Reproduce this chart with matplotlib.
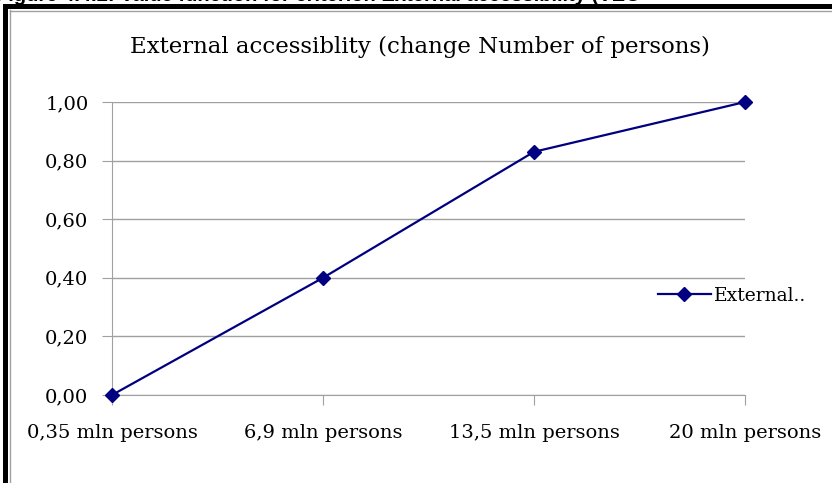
import matplotlib
matplotlib.use("Agg")
import matplotlib.pyplot as plt
from matplotlib.patches import Rectangle
from matplotlib.lines import Line2D

categories = ["0,35 mln persons", "6,9 mln persons", "13,5 mln persons", "20 mln persons"]
values = [0.0, 0.40, 0.83, 1.0]
yticks = [0.0, 0.2, 0.4, 0.6, 0.8, 1.0]
ytick_labels = ["0,00", "0,20", "0,40", "0,60", "0,80", "1,00"]
title = "External accessiblity (change Number of persons)"
series_name = "External.."
caption = "Figure 4.4.2: Value function for criterion External accessibility (VEC"

W, H = 832, 483
fig = plt.figure(figsize=(W / 100, H / 100), dpi=100)
serif = "DejaVu Serif"

# frame decorations
fig.add_artist(Rectangle((3 / W, 0), 5 / W, (H - 4) / H, transform=fig.transFigure,
                         facecolor="black", edgecolor="none"))
fig.add_artist(Rectangle((3 / W, (H - 9) / H), (W - 3) / W, 5 / H, transform=fig.transFigure,
                         facecolor="black", edgecolor="none"))
fig.add_artist(Line2D([10 / W, 10 / W], [0, (H - 10) / H], transform=fig.transFigure,
                      color="#a0a0a0", lw=1))
fig.add_artist(Line2D([10 / W, 1], [(H - 10.5) / H, (H - 10.5) / H], transform=fig.transFigure,
                      color="#a0a0a0", lw=1))
fig.text(-4 / W, (H - 0.8) / H, caption, fontsize=14.5, fontweight="bold",
         family="Liberation Sans", va="baseline", ha="left")

ax = fig.add_axes([112 / W, 1 - 395 / H, (745 - 112) / W, (395 - 102) / H])
x = list(range(len(categories)))
ax.plot(x, values, color="#000080", lw=1.6, marker="D", markersize=7,
        label=series_name, clip_on=False, zorder=3)
ax.set_xlim(0, len(categories) - 1)
ax.set_ylim(0, 1)
ax.set_yticks(yticks)
ax.set_yticklabels(ytick_labels, family=serif, fontsize=14)
ax.set_xticks(x)
ax.set_xticklabels(categories, family=serif, fontsize=14)
ax.grid(axis="y", color="#a0a0a0", lw=1)
ax.set_axisbelow(True)
for s in ["top", "right"]:
    ax.spines[s].set_visible(False)
ax.spines["left"].set_color("#a0a0a0")
ax.spines["bottom"].set_color("#a0a0a0")
ax.tick_params(axis="y", length=7, color="#a0a0a0", pad=10, direction="out")
ax.tick_params(axis="x", length=7, color="#a0a0a0", pad=14, direction="out")

fig.text(420 / W, 1 - 47 / H, title, family=serif, fontsize=16.5, ha="center", va="center")

ax.legend(loc="center left", bbox_to_anchor=(658 / W, 1 - 296 / H),
          bbox_transform=fig.transFigure, frameon=False,
          prop={"family": serif, "size": 13.5}, handlelength=2.8, handletextpad=0.2,
          borderaxespad=0, borderpad=0)

fig.savefig("out.png", dpi=100)
